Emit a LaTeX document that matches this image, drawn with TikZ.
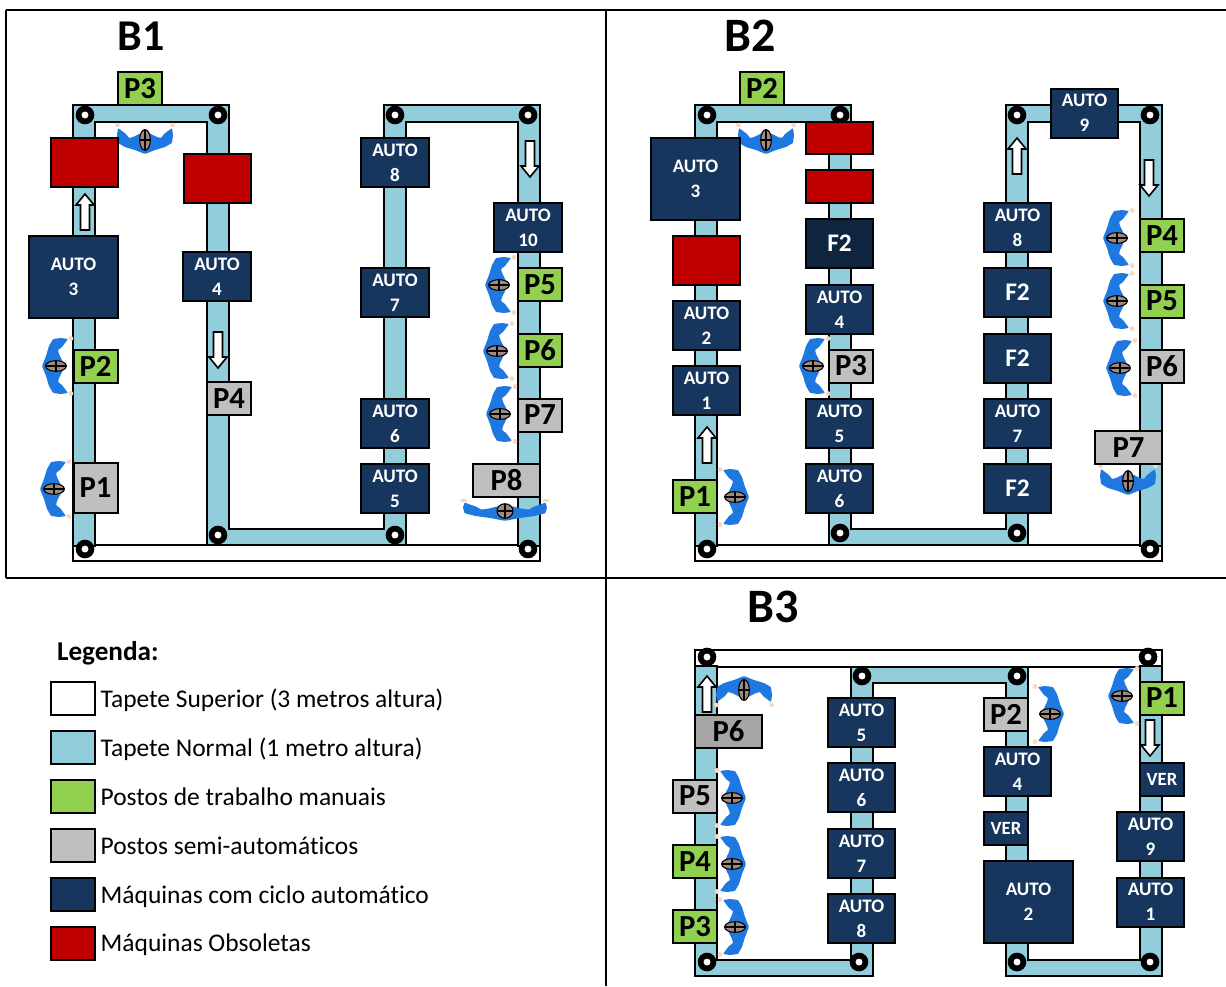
\documentclass[tikz,border=0pt]{standalone}
\usepackage{xcolor}
\usepackage{fontspec}
\setmainfont{Carlito}[Ligatures=NoCommon]
\usetikzlibrary{positioning}

\definecolor{beltblue}{HTML}{92CDDC}
\definecolor{autonavy}{HTML}{17365D}
\definecolor{darknavy}{HTML}{0F243E}
\definecolor{oldred}{HTML}{C00000}
\definecolor{manualgreen}{HTML}{92D050}
\definecolor{semigray}{HTML}{BFBFBF}
\definecolor{darkgray}{HTML}{A6A6A6}
\definecolor{workerblue}{HTML}{1F78E0}
\definecolor{workerhead}{HTML}{A08A7C}
\definecolor{workerhand}{HTML}{F8D8C0}

\begin{document}
\begin{tikzpicture}[x=0.75pt, y=-0.75pt, line width=1.5pt,
    box/.style={draw=black, rectangle, inner sep=0pt, outer sep=0pt, align=center},
    autobox/.style={box, fill=autonavy, text=white, minimum width=50.5pt, minimum height=36.75pt, font=\fontsize{14.3}{18.75}\selectfont\bfseries},
    bigbox/.style={autobox, minimum width=66.75pt, minimum height=61.5pt},
    smallbox/.style={autobox, minimum width=33pt, minimum height=24.75pt, font=\fontsize{14}{16}\selectfont\bfseries},
    fbox/.style={autobox, font=\fontsize{19}{21}\selectfont\bfseries},
    oldbox/.style={box, fill=oldred, minimum width=50.5pt, minimum height=36.75pt},
    manual/.style={box, fill=manualgreen, minimum width=33pt, minimum height=24.75pt, font=\fontsize{23}{25}\selectfont\bfseries},
    semi/.style={manual, fill=semigray},
    title/.style={font=\fontsize{33}{35}\selectfont\bfseries},
    widetitle/.style={font=\fontsize{36}{38}\selectfont\bfseries},
    belt/.style={draw=black, fill=beltblue},
    topbelt/.style={draw=black, fill=white},
    frameline/.style={draw=black, line width=1.4pt},
    swatch/.style={box, minimum width=33pt, minimum height=24.75pt},
    legendtext/.style={font=\fontsize{19.1}{21}\selectfont, inner sep=0pt, text height=17pt, text depth=4pt},
    roller/.pic={
        \fill[black] (0,0) circle (7pt);
        \fill[white] (0,0) circle (2.6pt);
    },
    worker/.pic={
        \fill[workerblue, rounded corners=0.6pt] (-27,-12) -- (-23,-9) -- (-19,-6) -- (-16,-2) -- (-12,-3) -- (-8,-5) -- (0,-9)
            -- (8,-5) -- (12,-3) -- (16,-2) -- (19,-6) -- (23,-9) -- (27,-12) -- (28,-5) -- (27,3) -- (20,7) -- (10,10) -- (0,14)
            -- (-10,10) -- (-20,7) -- (-27,3) -- (-28,-5) -- cycle;
        \fill[workerhand] (-27.5,-15) circle (1.8pt) (27.5,-15) circle (1.8pt);
        \draw[black, line width=0.8pt, fill=workerhead] (0,0) ellipse (4pt and 7.8pt);
        \draw[black, line width=0.9pt] (0,-10) -- (0,10) (-5,0) -- (5,0);
    },
    flow/.pic={
        \draw[black, fill=white, line width=1.2pt] (-4.5,18) -- (-4.5,-7) -- (-9,-7) -- (0,-18) -- (9,-7) -- (4.5,-7) -- (4.5,18) -- cycle;
    }]

    \useasboundingbox (0,0) rectangle (1226,986);

    % Panel frame
    \draw[frameline] (6,10) -- (1226,10);
    \draw[frameline] (6,578) -- (1226,578);
    \draw[frameline] (6,10) -- (6,578);
    \draw[frameline] (606,10) -- (606,986);

    % Titles
    \node[title] (tb1) at (141,36) {B1};
    \node[widetitle] (tb2) at (750,36) {B2};
    \node[widetitle] (tb3) at (773,607) {B3};

    % B1 belts
    \draw[topbelt] (73,545) rectangle (540,561);
    \draw[belt] (73,546) -- (73,105) -- (229,105) -- (229,529) -- (384,529) -- (384,105) -- (540,105) -- (540,546) -- (518,546)
        -- (518,122) -- (406,122) -- (406,545) -- (207,545) -- (207,122) -- (95,122) -- (95,546) -- cycle;
    \pic at (85,115) {roller};
    \pic at (218,115) {roller};
    \pic at (218,535) {roller};
    \pic at (395,535) {roller};
    \pic at (395,115) {roller};
    \pic at (528,115) {roller};
    \pic at (528,549) {roller};
    \pic at (85,549) {roller};

    % B2 belts
    \draw[topbelt] (695,545) rectangle (1162,561);
    \draw[belt] (695,546) -- (695,105) -- (851,105) -- (851,529) -- (1006,529) -- (1006,105) -- (1162,105) -- (1162,546) -- (1140,546)
        -- (1140,122) -- (1028,122) -- (1028,545) -- (829,545) -- (829,122) -- (717,122) -- (717,546) -- cycle;
    \pic at (707,115) {roller};
    \pic at (840,115) {roller};
    \pic at (840,533) {roller};
    \pic at (1017,533) {roller};
    \pic at (1017,115) {roller};
    \pic at (1150,115) {roller};
    \pic at (1150,549) {roller};
    \pic at (707,549) {roller};

    % B3 belts
    \draw[topbelt] (695,650) rectangle (1162,667);
    \draw[belt] (695,666) -- (717,666) -- (717,960) -- (851,960) -- (851,667) -- (1028,667) -- (1028,960) -- (1140,960) -- (1140,666) -- (1162,666)
        -- (1162,976) -- (1006,976) -- (1006,683) -- (873,683) -- (873,976) -- (695,976) -- cycle;
    \pic at (707,657) {roller};
    \pic at (1148,657) {roller};
    \pic at (862,676) {roller};
    \pic at (1017,676) {roller};
    \pic at (707,962) {roller};
    \pic at (859,962) {roller};
    \pic at (1017,962) {roller};
    \pic at (1150,962) {roller};

    % B1 workers
    \pic at (145,140) {worker};
    \pic[rotate=-90] at (56,366) {worker};
    \pic[rotate=-90] at (54,489) {worker};
    \pic[rotate=-90] at (499,285) {worker};
    \pic[rotate=-90] at (497,351) {worker};
    \pic[rotate=-90] at (500,414) {worker};
    \pic[xscale=1.5, yscale=0.7] at (505,511) {worker};

    % B2 workers
    \pic at (766,140) {worker};
    \pic[rotate=90] at (735,497) {worker};
    \pic[rotate=-90] at (813,366) {worker};
    \pic[rotate=-90] at (1117,238) {worker};
    \pic[rotate=-90] at (1117,301) {worker};
    \pic[rotate=-90] at (1120,368) {worker};
    \pic at (1128,481) {worker};

    % B3 workers
    \pic[rotate=180] at (744,690) {worker};
    \pic[rotate=90] at (732,798) {worker};
    \pic[rotate=90] at (732,864) {worker};
    \pic[rotate=90] at (735,927) {worker};
    \pic[rotate=90] at (1050,714) {worker};
    \pic[rotate=-90] at (1122,696) {worker};

    % Flow arrows
    \pic at (85,212) {flow};
    \pic[rotate=180] at (218,350) {flow};
    \pic[rotate=180] at (530,159) {flow};
    \pic at (707,445) {flow};
    \pic at (1017,156) {flow};
    \pic[rotate=180] at (1149,178) {flow};
    \pic at (707,694) {flow};
    \pic[rotate=180] at (1150,738) {flow};

    % B1 machines
    \node[oldbox] (b1o1) at (84.5,162.5) {};
    \node[oldbox] (b1o2) at (217.5,178.5) {};
    \node[bigbox] (b1a3) at (73.5,277) {AUTO\\3};
    \node[autobox] (b1a4) at (217,276.5) {AUTO\\4};
    \node[autobox] (b1a8) at (395,162.5) {AUTO\\8};
    \node[autobox] (b1a7) at (395,292.5) {AUTO\\7};
    \node[autobox] (b1a6) at (395,423.5) {AUTO\\6};
    \node[autobox] (b1a5) at (395,488.5) {AUTO\\5};
    \node[autobox] (b1a10) at (528,227.5) {AUTO\\10};

    % B1 posts
    \node[manual] (b1p3) at (140,88.5) {P3};
    \node[manual] (b1p2) at (95.5,366) {P2};
    \node[semi, minimum height=37.5pt] (b1p1) at (95.5,488) {P1};
    \node[semi] (b1p4) at (229,398.5) {P4};
    \node[manual] (b1p5) at (540,284.5) {P5};
    \node[manual] (b1p6) at (540,350) {P6};
    \node[semi] (b1p7) at (540,415) {P7};
    \node[semi, minimum width=50.25pt] (b1p8) at (506.5,480.5) {P8};

    % B2 machines
    \node[bigbox] (b2a3) at (695.5,179) {AUTO\\3};
    \node[oldbox] (b2o1) at (706.5,260.5) {};
    \node[autobox] (b2a2) at (706.5,325.5) {AUTO\\2};
    \node[autobox] (b2a1) at (706.5,390.5) {AUTO\\1};
    \node[oldbox, minimum height=24pt] (b2o2) at (839.5,138) {};
    \node[oldbox, minimum height=24.75pt] (b2o3) at (839.5,186.5) {};
    \node[fbox, fill=darknavy] (b2f1) at (839.5,243.5) {F2};
    \node[autobox] (b2a4) at (839.5,309.5) {AUTO\\4};
    \node[autobox] (b2a5) at (839.5,423.5) {AUTO\\5};
    \node[autobox] (b2a6) at (839.5,488.5) {AUTO\\6};
    \node[autobox] (b2a8) at (1017.5,227.5) {AUTO\\8};
    \node[fbox] (b2f2) at (1017.5,292.5) {F2};
    \node[fbox] (b2f3) at (1017.5,358) {F2};
    \node[autobox] (b2a7) at (1017.5,423.5) {AUTO\\7};
    \node[fbox] (b2f4) at (1017.5,488.5) {F2};
    \node[autobox] (b2a9) at (1084.5,113) {AUTO\\9};

    % B2 posts
    \node[manual] (b2p2) at (762,88.5) {P2};
    \node[manual] (b2p1) at (695,496.5) {P1};
    \node[semi] (b2p3) at (851,366) {P3};
    \node[manual] (b2p4) at (1162,235.5) {P4};
    \node[manual] (b2p5) at (1162,301) {P5};
    \node[semi] (b2p6) at (1162,366) {P6};
    \node[semi, minimum width=50.25pt] (b2p7) at (1128.5,447.5) {P7};

    % B3 machines
    \node[autobox] (b3a5) at (861.5,722.5) {AUTO\\5};
    \node[autobox] (b3a6) at (861.5,787.5) {AUTO\\6};
    \node[autobox] (b3a7) at (861.5,853.5) {AUTO\\7};
    \node[autobox] (b3a8) at (861.5,918.5) {AUTO\\8};
    \node[autobox] (b3a4) at (1017.5,771.5) {AUTO\\4};
    \node[smallbox] (b3v1) at (1006,828.5) {VER};
    \node[bigbox] (b3a2) at (1028.5,902) {AUTO\\2};
    \node[smallbox] (b3v2) at (1162,779.5) {VER};
    \node[autobox] (b3a9) at (1150.5,836.5) {AUTO\\9};
    \node[autobox] (b3a1) at (1150.5,902) {AUTO\\1};

    % B3 posts
    \node[semi, fill=darkgray, minimum width=50.25pt] (b3p6) at (728.5,731) {P6};
    \node[semi] (b3p5) at (695,796) {P5};
    \node[manual] (b3p4) at (695,861.5) {P4};
    \node[manual] (b3p3) at (695,926.5) {P3};
    \node[semi] (b3p2) at (1006,714.5) {P2};
    \node[manual] (b3p1) at (1162,698) {P1};

    % Legend
    \node[legendtext, font=\fontsize{20.4}{22}\selectfont\bfseries, anchor=west] (legtitle) at (56,651.5) {Legenda:};
    \node[swatch, fill=white] (leg1) at (73,698.5) {};
    \node[swatch, fill=beltblue] (leg2) at (73,747.5) {};
    \node[swatch, fill=manualgreen] (leg3) at (73,796.5) {};
    \node[swatch, fill=semigray] (leg4) at (73,845.5) {};
    \node[swatch, fill=autonavy] (leg5) at (73,894.5) {};
    \node[swatch, fill=oldred] (leg6) at (73,943) {};
    \node[legendtext, right=3.5pt of leg1] (txt1) {Tapete Superior (3 metros altura)};
    \node[legendtext, right=3.5pt of leg2] (txt2) {Tapete Normal (1 metro altura)};
    \node[legendtext, right=3.5pt of leg3] (txt3) {Postos de trabalho manuais};
    \node[legendtext, right=3.5pt of leg4] (txt4) {Postos semi-automáticos};
    \node[legendtext, right=3.5pt of leg5] (txt5) {Máquinas com ciclo automático};
    \node[legendtext, right=3.5pt of leg6] (txt6) {Máquinas Obsoletas};
\end{tikzpicture}
\end{document}
